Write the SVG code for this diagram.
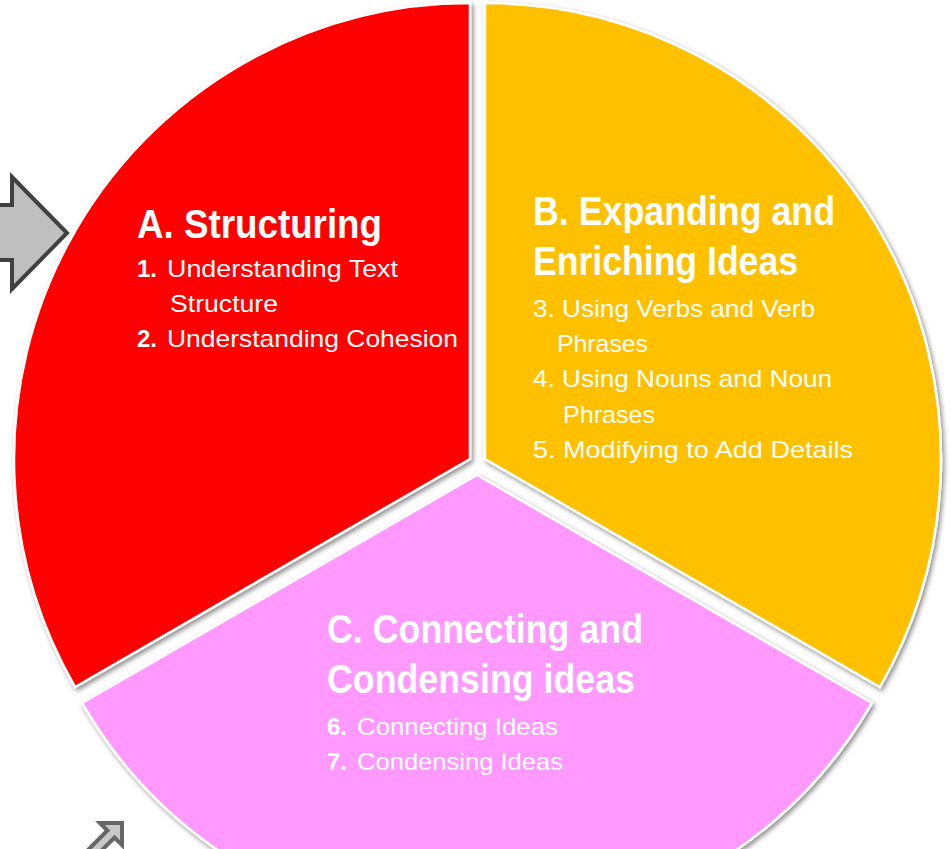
<svg xmlns="http://www.w3.org/2000/svg" width="951" height="849" viewBox="0 0 951 849">
  <defs>
    <filter id="sh" x="-10%" y="-10%" width="120%" height="120%">
      <feDropShadow dx="2" dy="2.5" stdDeviation="2.5" flood-color="#000" flood-opacity="0.45"/>
    </filter>
    <style>
      .sector { stroke: #fff; stroke-width: 2.5; filter: url(#sh); }
      .t { fill: #fff; font-family: "Liberation Sans", Arial, sans-serif; }
      .title { font-weight: bold; font-size: 41px; }
      .item { font-size: 24px; }
      .num { font-weight: bold; font-size: 24px; }
      .arrow { fill: #BFBFBF; stroke: #404040; stroke-width: 4; stroke-linejoin: miter; }
      .arrow2 { fill: #C8C8C8; stroke: #666; stroke-width: 4; stroke-linejoin: miter; }
    </style>
  </defs>
  <rect width="951" height="849" fill="#fff"/>

  <g id="arrows">
    <polygon class="arrow" points="-20,205 12,205 12,177 67,233 12,289 12,260 -20,260"/>
    <polygon class="arrow2" transform="translate(122,823) rotate(-45)" points="0,0 -15.6,-15.6 -15.6,-5 -80,-5 -80,5 -15.6,5 -15.6,15.6"/>
  </g>

  <g id="sector-a">
    <path class="sector" fill="#FF0000" d="M 470 459 L 470 3 A 456 456 0 0 0 75.1 687 Z"/>
    <text class="t title" x="137" y="238" textLength="245" lengthAdjust="spacingAndGlyphs">A. Structuring</text>
    <text class="t num" x="137" y="277">1.</text>
    <text class="t item" x="167" y="277" textLength="231" lengthAdjust="spacingAndGlyphs">Understanding Text</text>
    <text class="t item" x="170" y="312" textLength="108" lengthAdjust="spacingAndGlyphs">Structure</text>
    <text class="t num" x="137" y="347">2.</text>
    <text class="t item" x="167" y="347" textLength="291" lengthAdjust="spacingAndGlyphs">Understanding Cohesion</text>
  </g>

  <g id="sector-b">
    <path class="sector" fill="#FFC000" d="M 485 459 L 485 3 A 456 456 0 0 1 879.9 687 Z"/>
    <text class="t title" x="533" y="225" textLength="302" lengthAdjust="spacingAndGlyphs">B. Expanding and</text>
    <text class="t title" x="533" y="275" textLength="265" lengthAdjust="spacingAndGlyphs">Enriching Ideas</text>
    <text class="t item" x="533" y="317" textLength="282" lengthAdjust="spacingAndGlyphs">3. Using Verbs and Verb</text>
    <text class="t item" x="557" y="352" textLength="91" lengthAdjust="spacingAndGlyphs">Phrases</text>
    <text class="t item" x="533" y="387" textLength="299" lengthAdjust="spacingAndGlyphs">4. Using Nouns and Noun</text>
    <text class="t item" x="563" y="423" textLength="92" lengthAdjust="spacingAndGlyphs">Phrases</text>
    <text class="t item" x="533" y="458" textLength="320" lengthAdjust="spacingAndGlyphs">5. Modifying to Add Details</text>
  </g>

  <g id="sector-c">
    <path class="sector" fill="#FF99FF" d="M 477 475 L 871.9 703 A 456 456 0 0 1 82.1 703 Z"/>
    <text class="t title" x="327" y="643" textLength="316" lengthAdjust="spacingAndGlyphs">C. Connecting and</text>
    <text class="t title" x="327" y="693" textLength="308" lengthAdjust="spacingAndGlyphs">Condensing ideas</text>
    <text class="t num" x="327" y="735">6.</text>
    <text class="t item" x="357" y="735" textLength="201" lengthAdjust="spacingAndGlyphs">Connecting Ideas</text>
    <text class="t num" x="327" y="770">7.</text>
    <text class="t item" x="357" y="770" textLength="206" lengthAdjust="spacingAndGlyphs">Condensing Ideas</text>
  </g>
</svg>
